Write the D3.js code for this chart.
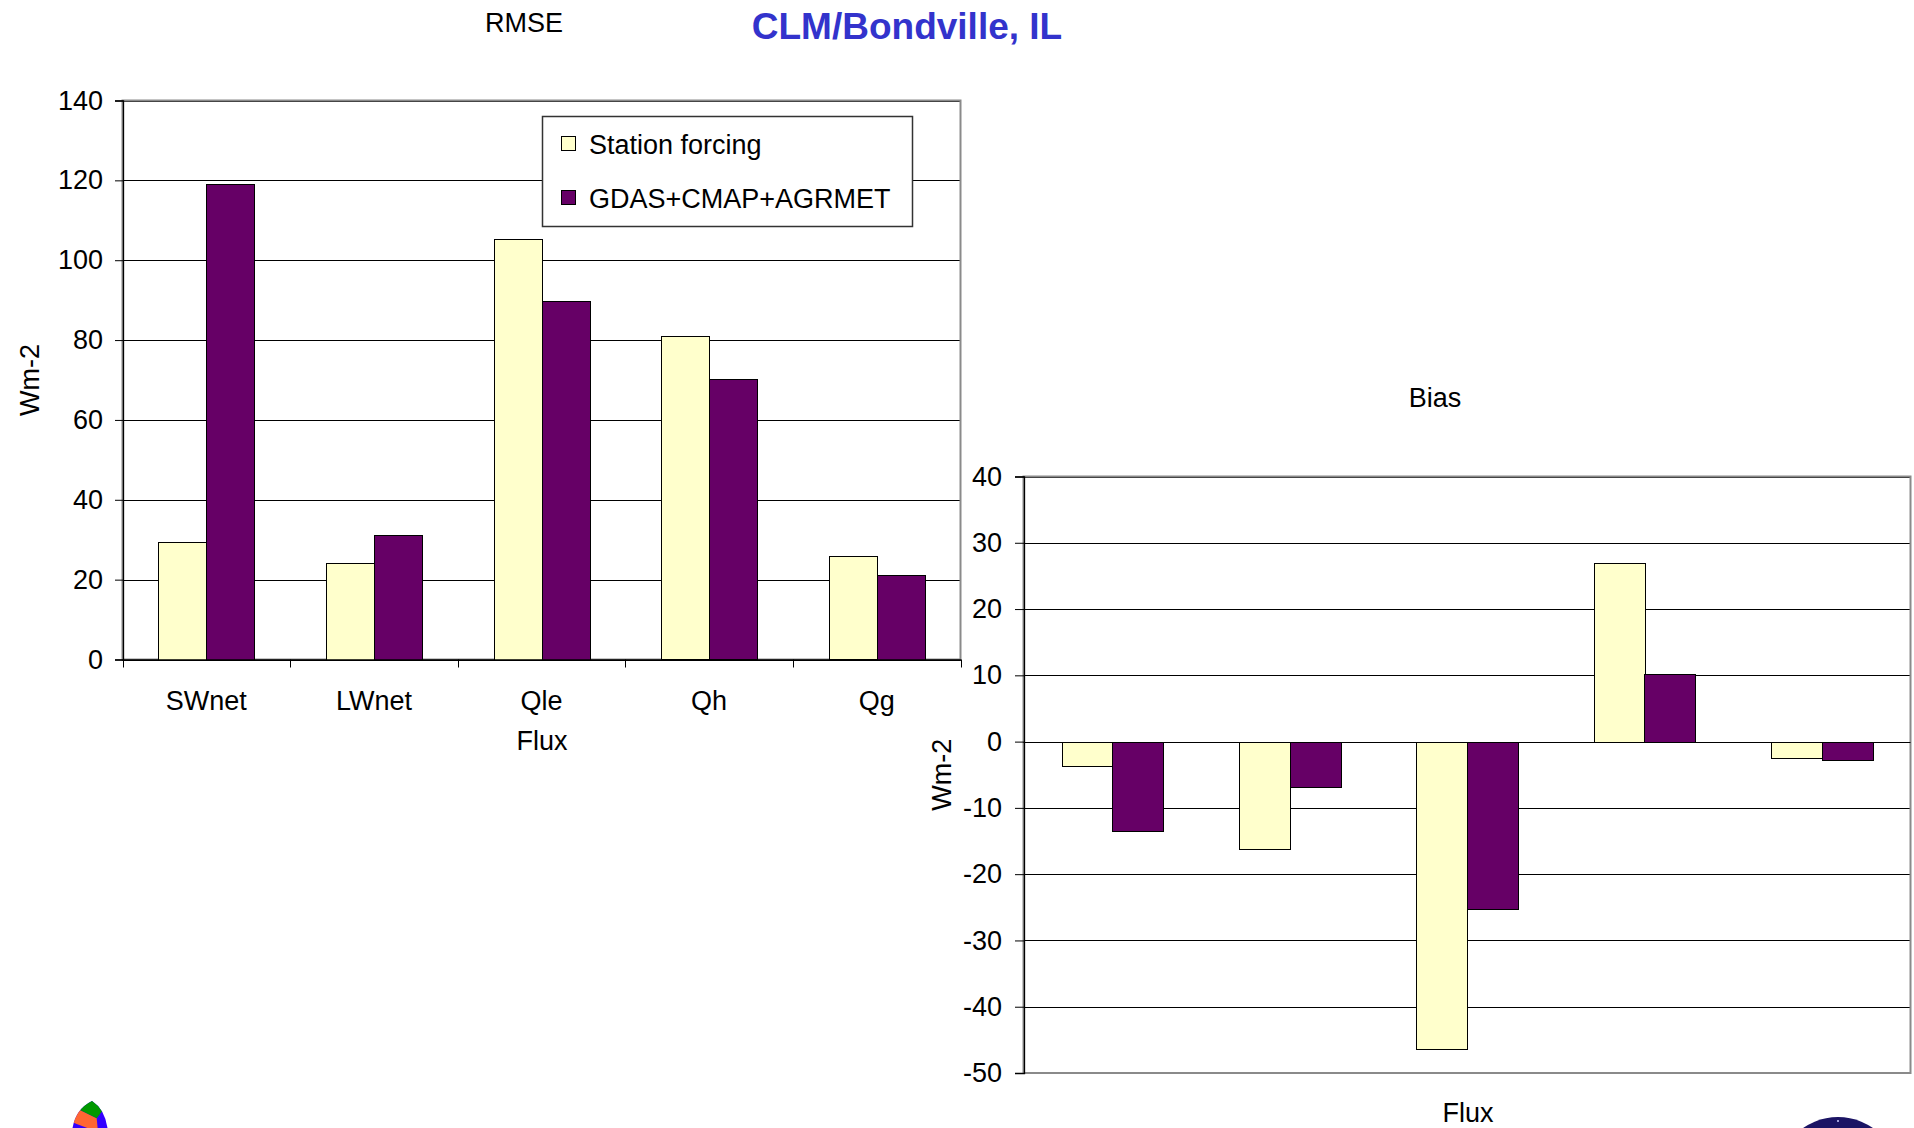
<!DOCTYPE html>
<html>
<head>
<meta charset="utf-8">
<script src="https://cdn.jsdelivr.net/npm/d3@7/dist/d3.min.js"></script>
<style>
  html, body { margin: 0; padding: 0; background: #ffffff; }
  svg { display: block; }
  text { font-family: "Liberation Sans", Arial, Helvetica, sans-serif; fill: #000; }
</style>
</head>
<body>
<svg id="chart" width="1914" height="1128"></svg>
<script>
// Flux categories and series
const categories = ["SWnet", "LWnet", "Qle", "Qh", "Qg"];
const seriesNames = ["Station forcing", "GDAS+CMAP+AGRMET"];

// RMSE (W m-2)
const rmseStation = [29.5, 24.2, 105.4, 81.0, 25.9];
const rmseGdas = [119.2, 31.3, 89.8, 70.2, 21.2];

// Bias (W m-2)
const biasStation = [-3.6, -16.1, -46.3, 27.0, -2.4];
const biasGdas = [-13.4, -6.8, -25.2, 10.2, -2.7];

// Axis ticks
const rmseTicks = [0, 20, 40, 60, 80, 100, 120, 140];
const biasTicks = [-50, -40, -30, -20, -10, 0, 10, 20, 30, 40];

const seriesColors = ["#ffffcc", "#660066"];
const FONT = 27;

const svg = d3.select("#chart");

// Page title
svg.append("text")
  .attr("x", 907).attr("y", 39)
  .attr("text-anchor", "middle")
  .style("font-size", "37px").style("font-weight", "bold")
  .style("fill", "#3333cc")
  .text("CLM/Bondville, IL");

function barChart(opt) {
  const g = svg.append("g");
  const x = d3.scaleBand().domain(categories).range([opt.left, opt.right]).padding(0);
  const xs = d3.scaleBand().domain(seriesNames).range([0, x.bandwidth()])
    .paddingInner(0).paddingOuter(0.75);
  const y = d3.scaleLinear().domain(opt.domain).range([opt.bottom, opt.top]);

  // gridlines
  g.append("g").selectAll("line").data(opt.ticks).join("line")
    .attr("x1", opt.left).attr("x2", opt.right)
    .attr("y1", d => Math.round(y(d)) + 0.5).attr("y2", d => Math.round(y(d)) + 0.5)
    .attr("stroke", "#000").attr("stroke-width", 1);

  // plot-area frame
  g.append("rect")
    .attr("x", opt.left).attr("y", opt.top)
    .attr("width", opt.right - opt.left).attr("height", opt.bottom - opt.top)
    .attr("fill", "none").attr("stroke", "#8a8a8a").attr("stroke-width", 2);

  // bars
  const rows = [];
  categories.forEach((c, i) => {
    opt.series.forEach((vals, s) => rows.push({ c, s, v: vals[i] }));
  });
  g.append("g").selectAll("rect").data(rows).join("rect")
    .attr("x", d => Math.round(x(d.c) + xs(seriesNames[d.s])) + 0.5)
    .attr("width", Math.round(xs.bandwidth()))
    .attr("y", d => Math.round(y(Math.max(0, d.v))) + 0.5)
    .attr("height", d => Math.round(Math.abs(y(d.v) - y(0))))
    .attr("fill", d => seriesColors[d.s])
    .attr("stroke", "#000").attr("stroke-width", 1);

  // zero line on top of bars
  g.append("line")
    .attr("x1", opt.left).attr("x2", opt.right)
    .attr("y1", Math.round(y(0)) + 0.5).attr("y2", Math.round(y(0)) + 0.5)
    .attr("stroke", "#000").attr("stroke-width", 1);

  // value axis (plain hyphen for negatives)
  const ya = d3.axisLeft(y).tickValues(opt.ticks).tickSize(opt.tickLen)
    .tickPadding(opt.tickPad).tickFormat(d => String(d));
  const yg = g.append("g").attr("transform", `translate(${opt.left + 0.5},0)`).call(ya);
  yg.select(".domain").attr("stroke", "#000").attr("stroke-width", 1.3);
  yg.selectAll(".tick line").attr("stroke", "#000");
  yg.selectAll(".tick text").style("font-size", FONT + "px")
    .style("font-family", '"Liberation Sans", Arial, sans-serif');
  yg.attr("font-family", null).attr("font-size", null);

  if (opt.catLabels) {
    const xa = d3.axisBottom(x).tickSize(0).tickPadding(31);
    const xg = g.append("g").attr("transform", `translate(0,${opt.bottom})`).call(xa);
    xg.select(".domain").attr("stroke", "#000").attr("stroke-width", 1.3);
    xg.selectAll(".tick text").style("font-size", FONT + "px")
      .style("font-family", '"Liberation Sans", Arial, sans-serif');
    xg.attr("font-family", null).attr("font-size", null);
    // category boundary ticks
    const edges = categories.map(c => x(c)).concat([x(categories[categories.length - 1]) + x.bandwidth()]);
    g.append("g").selectAll("line").data(edges).join("line")
      .attr("x1", d => Math.round(d) + 0.5).attr("x2", d => Math.round(d) + 0.5)
      .attr("y1", opt.bottom).attr("y2", opt.bottom + 8)
      .attr("stroke", "#000").attr("stroke-width", 1);
  }

  // chart title
  g.append("text").attr("x", opt.titleX).attr("y", opt.titleY)
    .attr("text-anchor", "middle").style("font-size", FONT + "px").text(opt.title);

  // axis titles
  g.append("text").attr("x", opt.fluxX).attr("y", opt.fluxY)
    .attr("text-anchor", "middle").style("font-size", FONT + "px").text("Flux");
  g.append("text")
    .attr("transform", `translate(${opt.unitX},${(opt.top + opt.bottom) / 2}) rotate(-90)`)
    .attr("text-anchor", "middle").style("font-size", FONT + "px").text("Wm-2");

  return g;
}

// RMSE chart
barChart({
  left: 122.5, right: 960.5, top: 100.5, bottom: 659.5,
  domain: [0, 140], ticks: rmseTicks,
  series: [rmseStation, rmseGdas],
  tickLen: 8, tickPad: 12, catLabels: true,
  title: "RMSE", titleX: 524, titleY: 32,
  fluxX: 542, fluxY: 750, unitX: 39
});

// Legend
const lg = svg.append("g");
lg.append("rect").attr("x", 542.5).attr("y", 116.5).attr("width", 370).attr("height", 110)
  .attr("fill", "#fff").attr("stroke", "#333").attr("stroke-width", 1.5);
seriesNames.forEach((name, i) => {
  const yy = 136.5 + i * 54;
  lg.append("rect").attr("x", 561.5).attr("y", yy).attr("width", 14).attr("height", 14)
    .attr("fill", seriesColors[i]).attr("stroke", "#000").attr("stroke-width", 1);
  lg.append("text").attr("x", 589).attr("y", yy + 17)
    .style("font-size", FONT + "px").text(name);
});

// Bias chart
barChart({
  left: 1023.5, right: 1910.5, top: 476.5, bottom: 1073,
  domain: [-50, 40], ticks: biasTicks,
  series: [biasStation, biasGdas],
  tickLen: 9, tickPad: 13, catLabels: false,
  title: "Bias", titleX: 1435, titleY: 407,
  fluxX: 1468, fluxY: 1122, unitX: 951
});

// Logos along the bottom edge
const logo = svg.append("g");
const defs = svg.append("defs");
defs.append("clipPath").attr("id", "leaf")
  .append("path").attr("d", "M72,1132 Q74,1110 92,1101 Q106,1110 108,1132 Z");
const leaf = logo.append("g").attr("clip-path", "url(#leaf)");
leaf.append("rect").attr("x", 60).attr("y", 1090).attr("width", 60).attr("height", 50).attr("fill", "#3300ff");
leaf.append("polygon").attr("points", "70,1108 80,1110 96.7,1118.3 98,1132 76.7,1124 70,1121").attr("fill", "#ff6633");
leaf.append("polygon").attr("points", "78,1095 110,1095 101.7,1111.7 96.7,1118.3 80,1110").attr("fill", "#009900");

logo.append("circle").attr("cx", 1838).attr("cy", 1178).attr("r", 61).attr("fill", "#1b1464");
logo.append("circle").attr("cx", 1838).attr("cy", 1121).attr("r", 1).attr("fill", "#ccccff");
</script>
</body>
</html>
